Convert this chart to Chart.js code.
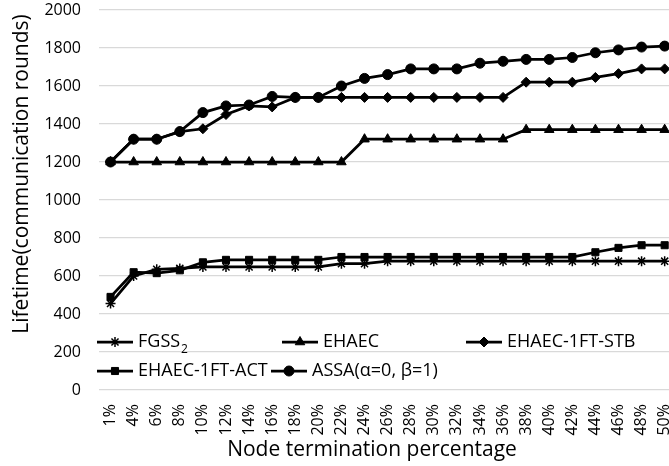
<!DOCTYPE html>
<html>
<head>
<meta charset="utf-8">
<script src="https://cdn.jsdelivr.net/npm/chart.js@4.4.1/dist/chart.umd.min.js"></script>
<style>
  html, body { margin: 0; padding: 0; overflow: hidden; background: #fff; }
  #wrap { width: 690px; height: 466px; }
</style>
</head>
<body>
<div id="wrap"><canvas id="chart" width="690" height="466"></canvas></div>
<script>
const categories = ["1%", "4%", "6%", "8%", "10%", "12%", "14%", "16%", "18%", "20%", "22%", "24%", "26%",
    "28%", "30%", "32%", "34%", "36%", "38%", "40%", "42%", "44%", "46%", "48%", "50%"]

const fgss2 = [455, 600, 635, 640, 648, 648, 648, 648, 648, 648, 665, 665, 678,
    678, 678, 678, 678, 678, 678, 678, 678, 678, 678, 678, 678]
const ehaec = [1200, 1200, 1200, 1200, 1200, 1200, 1200, 1200, 1200, 1200, 1200, 1320, 1320,
    1320, 1320, 1320, 1320, 1320, 1370, 1370, 1370, 1370, 1370, 1370, 1370]
const ehaecStb = [1200, 1320, 1320, 1360, 1375, 1450, 1495, 1490, 1540, 1540, 1540, 1540, 1540,
    1540, 1540, 1540, 1540, 1540, 1620, 1620, 1620, 1645, 1665, 1690, 1690]
const ehaecAct = [490, 620, 615, 630, 672, 685, 685, 685, 685, 685, 700, 700, 700,
    700, 700, 700, 700, 700, 700, 700, 700, 725, 748, 762, 762]
const assa = [1200, 1320, 1320, 1360, 1460, 1495, 1500, 1545, 1540, 1540, 1600, 1640, 1660,
    1690, 1690, 1690, 1720, 1730, 1740, 1740, 1750, 1775, 1790, 1805, 1810]

const yTicks = [0, 200, 400, 600, 800, 1000, 1200, 1400, 1600, 1800, 2000]

const xTitle = "Node termination percentage"
const yTitle = "Lifetime(communication rounds)"

const FONT = "'Open Sans', 'Noto Sans', sans-serif"

function series(label, data, pointStyle, radius) {
    return {
        label: label,
        data: data,
        borderColor: "#000",
        backgroundColor: "#000",
        borderWidth: 2.75,
        pointStyle: pointStyle,
        pointRadius: radius,
        pointBorderWidth: pointStyle === "star" ? 1.5 : 1,
        pointBackgroundColor: "#000",
        pointBorderColor: "#000",
        tension: 0,
    }
}

const datasets = [
    series("FGSS2", fgss2, "star", 5),
    series("EHAEC", ehaec, "triangle", 5.5),
    series("EHAEC-1FT-STB", ehaecStb, "rectRot", 5),
    series("EHAEC-1FT-ACT", ehaecAct, "rect", 5),
    series("ASSA(α=0, β=1)", assa, "circle", 5),
]

// legend sits inside the plot, Excel style: two rows
const legendSlots = [
    { i: 0, x: 97, y: 342 },
    { i: 1, x: 282, y: 342 },
    { i: 2, x: 466, y: 342 },
    { i: 3, x: 97, y: 371 },
    { i: 4, x: 271, y: 371 },
]

const extras = {
    id: "extras",
    afterDraw(chart) {
        const ctx = chart.ctx
        ctx.save()
        ctx.fillStyle = "#000"
        ctx.strokeStyle = "#000"

        // axis titles (Excel puts the y title a bit above the plot centre)
        ctx.font = "21px " + FONT
        ctx.textAlign = "center"
        ctx.textBaseline = "middle"
        ctx.fillText(xTitle, 372, 450)
        ctx.save()
        ctx.translate(22, 174)
        ctx.rotate(-Math.PI / 2)
        ctx.fillText(yTitle, 0, 0)
        ctx.restore()

        ctx.font = "18px " + FONT
        ctx.textAlign = "left"
        for (const slot of legendSlots) {
            const ds = chart.data.datasets[slot.i]
            ctx.lineWidth = 2.75
            ctx.beginPath()
            ctx.moveTo(slot.x, slot.y)
            ctx.lineTo(slot.x + 36, slot.y)
            ctx.stroke()
            ctx.lineWidth = ds.pointBorderWidth
            Chart.helpers.drawPoint(ctx, {
                pointStyle: ds.pointStyle,
                radius: ds.pointRadius,
                borderWidth: ds.pointBorderWidth,
                rotation: 0,
            }, slot.x + 18, slot.y)
            const tx = slot.x + 41
            if (slot.i === 0) {
                ctx.fillText("FGSS", tx, slot.y)
                const w = ctx.measureText("FGSS").width
                ctx.font = "12px " + FONT
                ctx.fillText("2", tx + w + 1, slot.y + 8)
                ctx.font = "18px " + FONT
            } else {
                ctx.fillText(ds.label, tx, slot.y)
            }
        }
        ctx.restore()
    },
}

new Chart(document.getElementById("chart"), {
    type: "line",
    data: { labels: categories, datasets: datasets },
    options: {
        responsive: false,
        animation: false,
        layout: { padding: { left: 0, right: 4, top: 0, bottom: 0 } },
        plugins: {
            legend: { display: false },
            tooltip: { enabled: false },
        },
        scales: {
            x: {
                offset: true,
                grid: { display: false },
                border: { display: false },
                ticks: {
                    color: "#000",
                    font: { family: FONT, size: 16 },
                    minRotation: 90,
                    maxRotation: 90,
                    padding: 6,
                    autoSkip: false,
                },
                afterFit(axis) { axis.height = 76 },
            },
            y: {
                min: 0,
                max: 2000,
                afterBuildTicks(axis) { axis.ticks = yTicks.map(v => ({ value: v })) },
                grid: { color: "#d9d9d9", lineWidth: 1.2, drawTicks: false },
                border: { display: false },
                ticks: {
                    color: "#000",
                    font: { family: FONT, size: 16 },
                    padding: 18,
                    callback: (v) => String(v),
                },
                afterFit(axis) {
                    axis.width = 99
                    axis.paddingTop = 10
                    axis.paddingBottom = 0
                },
            },
        },
    },
    plugins: [extras],
})
</script>
</body>
</html>
